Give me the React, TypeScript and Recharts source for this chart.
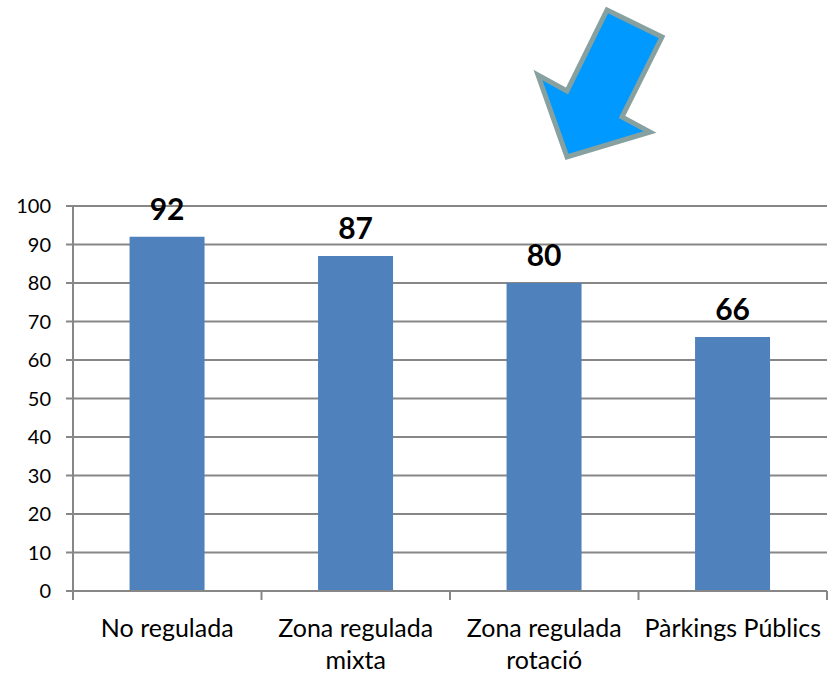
import { BarChart, Bar, XAxis, YAxis, CartesianGrid, LabelList, Customized } from "recharts";

const categories = ["No regulada", "Zona regulada mixta", "Zona regulada rotació", "Pàrkings Públics"];
const categoryLines = [["No regulada"], ["Zona regulada", "mixta"], ["Zona regulada", "rotació"], ["Pàrkings Públics"]];
const values = [92, 87, 80, 66];
const yTicks = [0, 10, 20, 30, 40, 50, 60, 70, 80, 90, 100];

const data = categories.map((c, i) => ({ name: c, value: values[i] }));

const FONT = "Lato, 'Open Sans', sans-serif";
const GRID = "#878787";
const W = 828;
const H = 675;
const LEFT = 73;
const RIGHT = 1;
const STEP = (W - LEFT - RIGHT) / categories.length;

const XTick = ({ x, y, payload, index }: any) => {
  const lines = categoryLines[index] || [payload.value];
  return (
    <g>
      <line x1={x - STEP / 2} x2={x - STEP / 2} y1={y - 8} y2={y + 1} stroke={GRID} strokeWidth={2} />
      {index === categories.length - 1 && (
        <line x1={x + STEP / 2} x2={x + STEP / 2} y1={y - 8} y2={y + 1} stroke={GRID} strokeWidth={2} />
      )}
      {lines.map((l: string, i: number) => (
        <text key={i} x={x} y={y + 38 + i * 32} textAnchor="middle" fontSize={25} fontFamily={FONT} fill="#000">
          {l}
        </text>
      ))}
    </g>
  );
};

// decorative arrow above the chart
const Arrow = () => (
  <polygon
    points="607,10 662,37 622,117 650,132 567,157 538,75 567,91"
    fill="#0099ff"
    stroke="#87a0a0"
    strokeWidth={5}
    strokeLinejoin="miter"
  />
);

export default function App() {
  return (
    <div style={{ position: "absolute", left: 0, top: 0, background: "#fff" }}>
      <BarChart
        width={W}
        height={H}
        data={data}
        margin={{ top: 206, right: RIGHT, bottom: 0, left: 0 }}
        barCategoryGap="30%"
      >
        <CartesianGrid vertical={false} stroke={GRID} strokeWidth={2} strokeOpacity={1} />
        <XAxis
          dataKey="name"
          height={84}
          axisLine={{ stroke: GRID, strokeWidth: 2 }}
          tickLine={false}
          tick={<XTick />}
          interval={0}
        />
        <YAxis
          width={LEFT}
          domain={[0, 100]}
          ticks={yTicks}
          interval={0}
          axisLine={{ stroke: GRID, strokeWidth: 2 }}
          tickLine={{ stroke: GRID, strokeWidth: 2 }}
          tickSize={7}
          tickMargin={15}
          tick={{ fontSize: 20, fontFamily: FONT, fill: "#000" }}
        />
        <Bar dataKey="value" fill="#4f81bd" isAnimationActive={false}>
          <LabelList
            dataKey="value"
            position="top"
            offset={17}
            style={{ fontSize: 30, fontWeight: 700, fontFamily: FONT, fill: "#000" }}
          />
        </Bar>
        <Customized component={Arrow} />
      </BarChart>
    </div>
  );
}
